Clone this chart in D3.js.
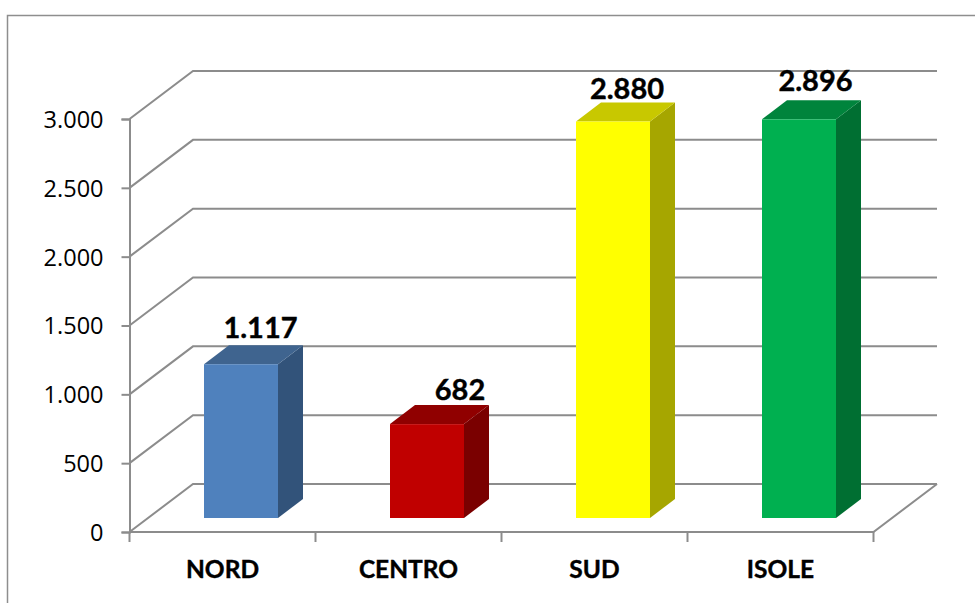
<!DOCTYPE html>
<html>
<head>
<meta charset="utf-8">
<script src="https://cdn.jsdelivr.net/npm/d3@7"></script>
<style>
  html, body { margin: 0; padding: 0; background: #fff; overflow: hidden; }
  svg { display: block; }
</style>
</head>
<body>
<svg></svg>
<script>
// Data
const categories = ['NORD', 'CENTRO', 'SUD', 'ISOLE'];
const values = [1117, 682, 2880, 2896];
const valueLabels = ['1.117', '682', '2.880', '2.896'];
const yTicks = [0, 500, 1000, 1500, 2000, 2500, 3000];
const frontColors = ['#4F81BD', '#C00000', '#FFFF00', '#00B050'];
const topColors = ['#3F648F', '#900000', '#C8C800', '#00843C'];
const sideColors = ['#32537A', '#7A0000', '#A6A600', '#006F32'];

// Constants
const width = 975;
const height = 603;
const gridColor = '#8C8C8C';

// depth of the 3d box
const wallDx = 63.5;
const wallDy = -48;
const barDx = 25;
const barDy = -19;
const barLift = 14;
const barWidth = 74;

// hand placed data labels, same order as categories
const labelDx = [19.5, 33, 14, 16.5];
const labelDy = [-26, -24, -22.5, -28];

const svg = d3.select('svg')
    .attr('width', width)
    .attr('height', height);

// frame
svg.append('path')
    .attr('d', `M7.5,${height}V15.5H${width}`)
    .attr('fill', 'none')
    .attr('stroke', '#8E8E8E')
    .attr('stroke-width', 1.5);

// scales
const x = d3.scaleBand()
    .domain(categories)
    .range([129.5, 873.5]);

const y = d3.scaleLinear()
    .domain([0, 3000])
    .range([532, 119]);

// walls
const wallLine = d3.line();
svg.append('g')
    .attr('id', 'grid')
    .selectAll('path')
    .data(yTicks).enter().append('path')
    .attr('d', d => wallLine([
        [x.range()[0], y(d)],
        [x.range()[0] + wallDx, y(d) + wallDy],
        [x.range()[1] + wallDx, y(d) + wallDy]
    ]))
    .attr('fill', 'none')
    .attr('stroke', gridColor)
    .attr('stroke-width', 2);

// floor front edge and right side
svg.append('path')
    .attr('d', wallLine([
        [x.range()[1] + wallDx, y(0) + wallDy],
        [x.range()[1], y(0)],
        [x.range()[0], y(0)]
    ]))
    .attr('fill', 'none')
    .attr('stroke', gridColor)
    .attr('stroke-width', 2);

// yAxis
const yAxis = d3.axisLeft(y)
    .tickValues(yTicks)
    .tickSize(8)
    .tickPadding(18)
    .tickFormat(d => d3.format(',')(d).replace(',', '.'));

const yGroup = svg.append('g')
    .attr('id', 'y-axis')
    .attr('transform', `translate(${x.range()[0]}, 0)`)
    .call(yAxis);

yGroup.select('.domain').attr('stroke', gridColor).attr('stroke-width', 2);
yGroup.selectAll('line').attr('stroke', gridColor).attr('stroke-width', 2);
yGroup.selectAll('text')
    .attr('fill', '#000')
    .attr('font-family', "'Open Sans'")
    .attr('font-weight', 400)
    .attr('font-size', 23.5)
    .attr('dy', '0.36em');

// xAxis
const xTicks = categories.map(d => x(d)).concat(x.range()[1]);
svg.append('g')
    .attr('id', 'x-ticks')
    .selectAll('line')
    .data(xTicks).enter().append('line')
    .attr('x1', d => d)
    .attr('x2', d => d)
    .attr('y1', y(0))
    .attr('y2', y(0) + 10)
    .attr('stroke', gridColor)
    .attr('stroke-width', 2);

svg.append('g')
    .attr('id', 'x-labels')
    .selectAll('text')
    .data(categories).enter().append('text')
    .attr('x', d => x(d) + x.bandwidth() / 2)
    .attr('y', 578)
    .attr('text-anchor', 'middle')
    .attr('font-family', 'Lato')
    .attr('font-weight', 700)
    .attr('font-size', 24.5)
    .attr('stroke', '#000')
    .attr('stroke-width', 0.4)
    .attr('fill', '#000')
    .text(d => d);

// bars
const bars = svg.append('g')
    .attr('id', 'bars')
    .selectAll('g')
    .data(categories).enter().append('g');

const barLeft = d => x(d) + (x.bandwidth() - barWidth) / 2 + 18.5;
const barTop = (i) => y(values[i]) - barLift;
const barBase = y(0) - barLift;

// side
bars.append('path')
    .attr('fill', (d, i) => sideColors[i])
    .attr('d', (d, i) => {
        const r = barLeft(d) + barWidth;
        return wallLine([
            [r, barTop(i)],
            [r + barDx, barTop(i) + barDy],
            [r + barDx, barBase + barDy],
            [r, barBase]
        ]) + 'Z';
    });

// top
bars.append('path')
    .attr('fill', (d, i) => topColors[i])
    .attr('d', (d, i) => {
        const l = barLeft(d);
        return wallLine([
            [l, barTop(i)],
            [l + barDx, barTop(i) + barDy],
            [l + barWidth + barDx, barTop(i) + barDy],
            [l + barWidth, barTop(i)]
        ]) + 'Z';
    });

// front
bars.append('rect')
    .attr('x', barLeft)
    .attr('y', (d, i) => barTop(i))
    .attr('width', barWidth)
    .attr('height', (d, i) => barBase - barTop(i))
    .attr('fill', (d, i) => frontColors[i]);

// value labels
bars.append('text')
    .attr('x', (d, i) => barLeft(d) + barWidth / 2 + labelDx[i])
    .attr('y', (d, i) => barTop(i) + labelDy[i])
    .attr('text-anchor', 'middle')
    .attr('font-family', 'Lato')
    .attr('font-weight', 700)
    .attr('font-size', 29)
    .attr('stroke', '#000')
    .attr('stroke-width', 0.4)
    .attr('fill', '#000')
    .text((d, i) => valueLabels[i]);
</script>
</body>
</html>
